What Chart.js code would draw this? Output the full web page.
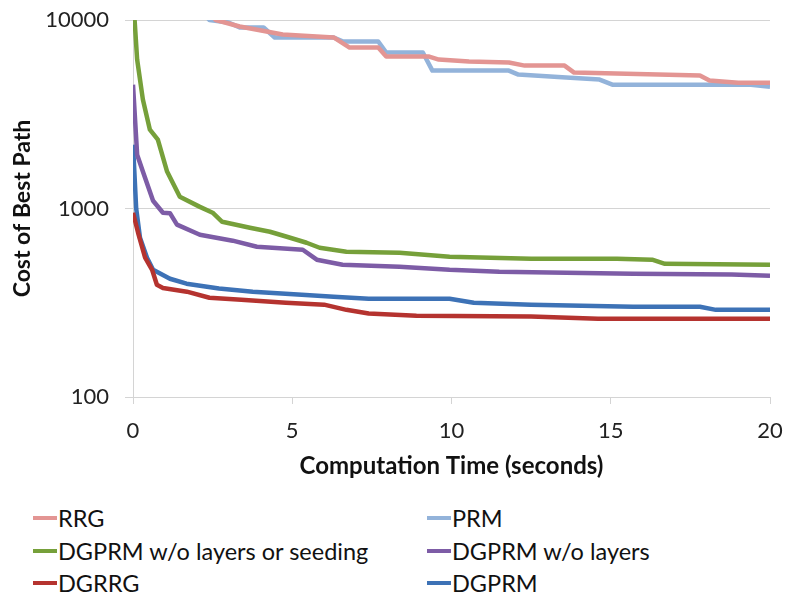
<!DOCTYPE html>
<html>
<head>
<meta charset="utf-8">
<script src="https://cdn.jsdelivr.net/npm/chart.js@4.4.1/dist/chart.umd.min.js"></script>
<style>
  html, body { margin: 0; padding: 0; background: #fff; }
  #wrap { position: relative; width: 787px; height: 599px; }
  #chartBox { position: absolute; left: 0; top: 0; width: 787px; height: 490px; }
  #legend { position: absolute; left: 0; top: 504px; width: 787px; font-family: Lato, "Open Sans", sans-serif; font-size: 23.5px; color: #111; }
  .item { position: absolute; display: flex; align-items: center; height: 28px; white-space: nowrap; }
  .item .swatch { width: 24px; height: 4px; margin-right: 1px; }
</style>
</head>
<body>
<div id="wrap">
  <div id="chartBox"><canvas id="chart"></canvas></div>
  <div id="legend"></div>
</div>
<script>
// --- DATA (time in seconds, cost of best path) ---
const seriesNames = ['RRG', 'PRM', 'DGPRM w/o layers or seeding', 'DGPRM w/o layers', 'DGRRG', 'DGPRM'];
const seriesColors = ['#E39593', '#93B3DA', '#76A03A', '#7D5CA6', '#B5332F', '#3D72B6'];

const rrgT = [0, 2.6, 3.35, 4.7, 6.3, 6.8, 7.7, 7.95, 9.3, 9.6, 10.55, 11.8, 12.3, 13.55, 13.85, 17.8, 18.1, 19.0, 20];
const rrgV = [30000, 10000, 9240, 8380, 8080, 7140, 7140, 6400, 6400, 6170, 6020, 5950, 5730, 5730, 5260, 5070, 4770, 4650, 4650];

const prmT = [0, 2.4, 3.0, 3.35, 4.1, 4.45, 6.3, 6.6, 7.7, 7.95, 9.1, 9.4, 11.8, 12.1, 13.6, 14.65, 15.05, 19.4, 20];
const prmV = [30000, 10000, 9700, 9120, 9120, 8080, 8080, 7690, 7690, 6720, 6720, 5390, 5390, 5135, 4950, 4830, 4540, 4540, 4430];

const dgNoLayersSeedT = [0, 0.05, 0.13, 0.31, 0.53, 0.78, 1.07, 1.47, 2.1, 2.5, 2.8, 3.67, 4.3, 4.83, 5.45, 5.86, 6.7, 8.37, 9.94, 12.5, 15.2, 16.3, 16.7, 20];
const dgNoLayersSeedV = [11000, 10000, 6170, 3785, 2620, 2320, 1570, 1155, 1020, 950, 850, 790, 753, 708, 658, 619, 590, 582, 555, 541, 541, 535, 509, 503];

const dgNoLayersT = [0, 0.13, 0.31, 0.63, 0.94, 1.16, 1.38, 2.1, 3.13, 3.89, 5.33, 5.77, 6.58, 8.37, 9.94, 11.5, 15.7, 18.8, 20];
const dgNoLayersV = [4540, 1930, 1570, 1100, 950, 945, 821, 726, 675, 627, 604, 535, 503, 491, 473, 462, 451, 446, 440];

const dgrrgT = [0, 0.16, 0.38, 0.6, 0.75, 0.94, 1.69, 2.4, 3.4, 4.8, 6.0, 6.7, 7.4, 8.9, 12.5, 14.6, 20];
const dgrrgV = [950, 743, 548, 473, 394, 379, 362, 336, 328, 316, 309, 290, 277, 270, 267, 260, 260];

const dgprmT = [0, 0.1, 0.22, 0.44, 0.63, 1.16, 1.68, 2.7, 3.76, 5.3, 6.3, 7.4, 9.94, 10.7, 12.5, 15.7, 17.8, 18.3, 20];
const dgprmV = [2180, 1000, 700, 548, 473, 424, 399, 376, 362, 349, 340, 332, 332, 316, 309, 301, 301, 290, 290];

const xTickValues = [0, 5, 10, 15, 20];
const yTickValues = [100, 1000, 10000];

const seriesT = [rrgT, prmT, dgNoLayersSeedT, dgNoLayersT, dgrrgT, dgprmT];
const seriesV = [rrgV, prmV, dgNoLayersSeedV, dgNoLayersV, dgrrgV, dgprmV];

const FONT = 'Lato, "Open Sans", sans-serif';
const GRID = '#D4D4D4';

const datasets = seriesNames.map((name, i) => ({
    label: name,
    data: seriesT[i].map((t, j) => ({ x: t, y: seriesV[i][j] })),
    borderColor: seriesColors[i],
    backgroundColor: seriesColors[i],
    borderWidth: 4.5,
    pointRadius: 0,
    tension: 0,
    borderJoinStyle: 'round'
}));

new Chart(document.getElementById('chart'), {
    type: 'line',
    data: { datasets },
    options: {
        responsive: true,
        maintainAspectRatio: false,
        animation: false,
        layout: { padding: { left: 9, right: 17, top: 20, bottom: 9 } },
        plugins: { legend: { display: false }, tooltip: { enabled: false } },
        scales: {
            x: {
                type: 'linear',
                min: 0,
                max: 20,
                afterBuildTicks: (s) => { s.ticks = xTickValues.map(v => ({ value: v })); },
                afterFit: (s) => { s.height = 84; s.paddingLeft = 0; s.paddingRight = 0; },
                grid: { drawOnChartArea: false, color: GRID, tickLength: 7 },
                border: { color: GRID, width: 1 },
                ticks: { color: '#222', font: { family: FONT, size: 22 }, padding: 14, maxRotation: 0 },
                title: { display: true, text: 'Computation Time (seconds)', color: '#111', font: { family: FONT, size: 24, weight: 'bold' }, padding: { top: 4, bottom: 0 } }
            },
            y: {
                type: 'logarithmic',
                min: 100,
                max: 10000,
                afterBuildTicks: (s) => { s.ticks = yTickValues.map(v => ({ value: v })); },
                afterFit: (s) => { s.width = 124; s.paddingTop = 0; s.paddingBottom = 0; },
                grid: { color: GRID, tickLength: 8 },
                border: { color: GRID, width: 1 },
                ticks: { color: '#222', font: { family: FONT, size: 22 }, padding: 16, callback: (v) => String(v) },
                title: { display: true, text: 'Cost of Best Path', color: '#111', font: { family: FONT, size: 23, weight: 'bold' }, padding: { top: 0, bottom: 0 } }
            }
        }
    }
});

// --- LEGEND (two columns, as in the reference) ---
const legend = document.getElementById('legend');
seriesNames.forEach((name, i) => {
    const col = i % 2, row = Math.floor(i / 2);
    const el = document.createElement('div');
    el.className = 'item';
    el.style.left = (col ? 427 : 33) + 'px';
    el.style.top = (row * 32.5) + 'px';
    el.innerHTML = `<span class="swatch" style="background:${seriesColors[i]}"></span><span>${name}</span>`;
    legend.appendChild(el);
});
</script>
</body>
</html>
